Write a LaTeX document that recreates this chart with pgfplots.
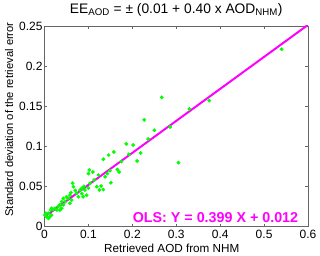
\documentclass[border=0pt]{standalone}
\usepackage{pgfplots}
\pgfplotsset{compat=1.18}
\usepackage{fontspec}
\setmainfont{Liberation Sans}
\definecolor{mag}{RGB}{255,0,255}
\definecolor{grn}{RGB}{0,255,0}
\begin{document}
\begin{tikzpicture}
\begin{axis}[name=ax,
  scale only axis, width=263.5pt, height=200.5pt,
  xmin=0, xmax=0.6, ymin=0, ymax=0.25,
  xtick={0,0.1,0.2,0.3,0.4,0.5,0.6},
  xticklabels={0,0.1,0.2,0.3,0.4,0.5,0.6},
  ytick={0,0.05,0.1,0.15,0.2,0.25},
  yticklabels={0,0.05,0.1,0.15,0.2,0.25},
  tick align=inside, tick pos=both,
  major tick length=3pt,
  axis line style={black!60}, tick style={black!60},
  ticklabel style={font=\fontsize{12}{14}\selectfont},
  yticklabel style={xshift=1.5pt},
  xlabel={Retrieved AOD from NHM},
  ylabel={Standard deviation of the retrieval error},
  xlabel style={font=\fontsize{11.7}{14}\selectfont, at={(axis description cs:0.483,-0.107)}, anchor=center},
  ylabel style={font=\fontsize{11.2}{14}\selectfont, at={(axis description cs:-0.1347,0.032)}, anchor=west},
  every axis title shift=0pt,
  title={EE\textsubscript{AOD} = ± (0.01 + 0.40 x AOD\textsubscript{NHM})},
  title style={font=\fontsize{13.8}{15}\selectfont, at={(axis description cs:0.5,1.063)}, anchor=base},
  clip=true,
]
\addplot[only marks, mark=*, mark size=1.7pt, draw=grn, fill=grn] coordinates {
(0.267,0.161)(0.227,0.133)(0.250,0.120)(0.236,0.109)(0.286,0.124)
(0.330,0.1465)(0.375,0.157)(0.305,0.0796)(0.219,0.0916)(0.540,0.221)
(0.186,0.103)(0.202,0.1016)(0.192,0.090)(0.211,0.0817)
(0.146,0.089)(0.158,0.093)(0.134,0.0838)(0.175,0.081)
(0.102,0.0705)(0.110,0.068)(0.100,0.066)(0.123,0.064)(0.149,0.0696)
(0.143,0.066)(0.166,0.071)(0.170,0.068)(0.138,0.062)(0.151,0.0546)
(0.129,0.0505)(0.119,0.0496)(0.125,0.0455)(0.134,0.046)(0.113,0.058)
(0.104,0.054)(0.064,0.054)(0.066,0.0496)(0.085,0.0476)(0.092,0.0455)
(0.081,0.0455)(0.073,0.0414)(0.085,0.041)(0.096,0.039)(0.077,0.037)
(0.088,0.037)(0.058,0.039)(0.050,0.037)(0.043,0.035)(0.054,0.035)
(0.062,0.033)(0.047,0.031)(0.039,0.031)(0.035,0.027)(0.043,0.027)
(0.031,0.025)(0.028,0.0206)(0.020,0.0214)(0.024,0.0227)(0.016,0.0227)
(0.014,0.0206)(0.035,0.0206)(0.039,0.0227)(0.058,0.029)(0.009,0.0165)
(0.001,0.0143)(0.005,0.0122)(0.0125,0.0122)(0.016,0.0143)(0.009,0.0102)
(0.003,0.0165)(0.070,0.045)(0.090,0.050)(0.060,0.042)(0.100,0.048)
};
\addplot[mag, line width=2pt] coordinates {(0,0.012)(0.6,0.2514)};
\node[anchor=base east, text=mag, font=\fontsize{14.3}{16}\selectfont\bfseries]
  at (rel axis cs:0.976,0.019) {OLS: Y = 0.399 X + 0.012};
\end{axis}
\pgfresetboundingbox
\path[use as bounding box] ([shift={(-44.5pt,-29.5pt)}]ax.south west) rectangle ([shift={(12pt,26pt)}]ax.north east);
\end{tikzpicture}
\end{document}
